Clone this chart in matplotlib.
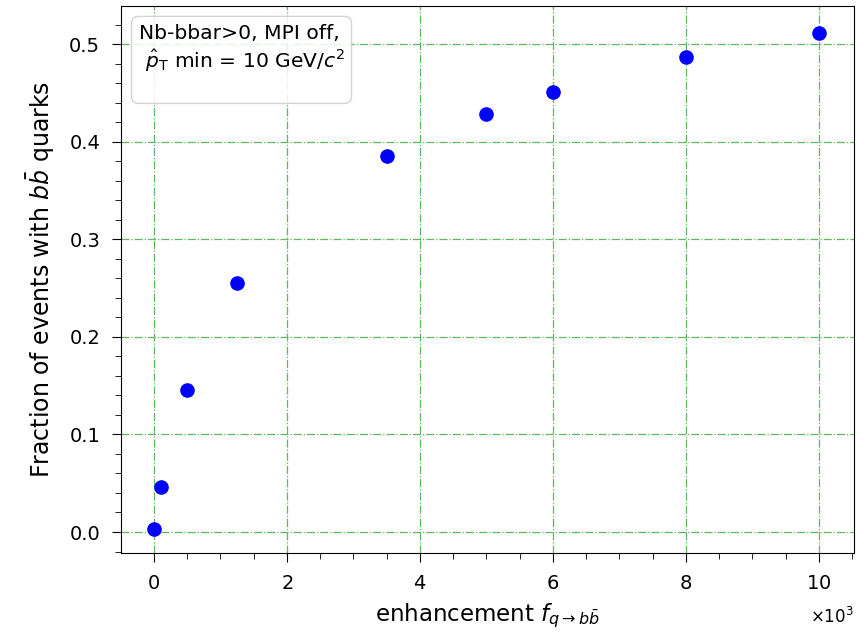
import numpy as np
import matplotlib
matplotlib.use("Agg")
import matplotlib.pyplot as plt
from matplotlib.ticker import ScalarFormatter, AutoMinorLocator

# enhancement factor vs fraction of events with b bbar
enhancement = [0, 100, 500, 1250, 3500, 5000, 6000, 8000, 10000]
fraction = [0.003, 0.046, 0.146, 0.255, 0.385, 0.428, 0.451, 0.487, 0.511]

fig = plt.figure(figsize=(8.68, 6.33), dpi=100)
ax = fig.add_axes([0.1394, 0.1264, 0.8445, 0.8641])

ax.plot(enhancement, fraction, "o", color="blue", markersize=9.5, zorder=3)

ax.set_xlim(-496, 10530)
ax.set_ylim(-0.0215, 0.539)

fmt = ScalarFormatter(useMathText=True)
fmt.set_powerlimits((3, 3))
ax.xaxis.set_major_formatter(fmt)
ax.xaxis.set_minor_locator(AutoMinorLocator(4))
ax.yaxis.set_minor_locator(AutoMinorLocator(5))
ax.tick_params(which="major", labelsize=14, length=6.5, pad=8.5)
ax.tick_params(which="minor", length=4)
ax.xaxis.get_offset_text().set_fontsize(12)
ax.xaxis.OFFSETTEXTPAD = 10

ax.grid(True, color="#5fb85f", linestyle="-.", linewidth=0.9)

ax.set_xlabel(r"enhancement $f_{q\rightarrow b\bar{b}}$", fontsize=16.5, labelpad=6)
ax.set_ylabel(r"Fraction of events with $b\bar{b}$ quarks", fontsize=17, labelpad=9)

ax.text(0.024, 0.968, "Nb-bbar>0, MPI off,\n" + r" $\hat{p}_{\mathrm{T}}$ min = 10 GeV/$c^2$" + "\n",
        transform=ax.transAxes, fontsize=14.6, va="top", ha="left", linespacing=1.25,
        bbox=dict(boxstyle="round,pad=0.35", facecolor="white", edgecolor="#cccccc", alpha=0.85))

fig.savefig("out.png", dpi=100)
